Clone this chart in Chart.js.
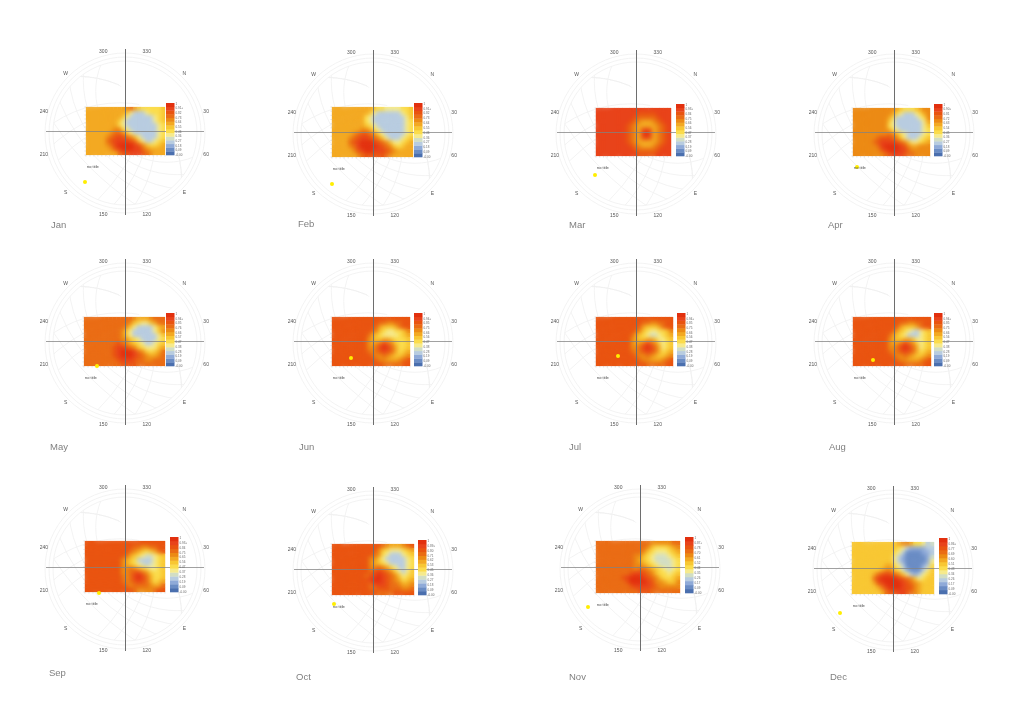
<!DOCTYPE html>
<html>
<head>
<meta charset="utf-8">
<style>
  html, body { margin: 0; background: #fff; }
  #page { position: relative; width: 1024px; height: 723px; overflow: hidden; }
  canvas { position: absolute; }
</style>
<script src="https://cdn.jsdelivr.net/npm/chart.js@4"></script>
</head>
<body>
<div id="page"></div>
<script>
// Each character is one heatmap cell, read as a colour-bar step (0 = lowest, d = highest)
const jan = ['88888888889a87666667','88888888887533356667','88888888875333333567','88888888753333333567','88888888653333333356','88888889965333333356','8888889aa97533333356','888889abcba975333356','88888abccccba7533567','888889acddddcb976678','8888889bcdddcca98888','88888888abbcccba9888'];
const feb = ['88888888887665555667','88888888875333333567','88888888653333333357','88888888653333333356','88888888765333333356','88888889986533333356','888889abba9753333356','88889abccba975333567','8888abcdddcba9755678','88889acddddcba976788','888889bcddcccba98888','8888889abbbbba988888'];
const mar = ['cccccccccccccccccccc','cccccccccccbbbbbcccc','ccccccccccbaaaaabccc','cccccccccba98889abcc','ccccccccba9888889abc','ccccccccba98bcb89abc','ccccccccba98cdc89abc','ccccccccba98bcb89abc','ccccccccba9888889abc','cccccccccba98889abcc','ccccccccccbaaaaabccc','cccccccccccbbbbbcccc'];
const apr = ['99999999999876667899','99999999998653335689','99999999986333333569','99999999975333333358','99999999965333333357','99999999986533333356','999999999a9865333356','999999abbba975333567','99999abccccba9755678','999999acddddcb988999','9999999bcdddcca99999','99999999abcccbaa9999'];
const may = ['aaaaaaaaaaaa98889aaa','aaaaaaaaaaa9765578aa','aaaaaaaaaa9753333578','aaaaaaaaa97533333579','aaaaaaaaa97533333357','aaaaaaaaa99765333356','aaaaaaaaba9876533567','aaaaaaabccba97655578','aaaaaaabcdddca97678a','aaaaaaabcdddcba9889a','aaaaaaaabcccbaa99aaa','aaaaaaaaabbbbaaaaaaa'];
const jun = ['bbbbbbbbbbbbbbbbbbbb','bbbbbbbbbbbbaa99aabb','bbbbbbbbbbba87778abb','bbbbbbbbbba976556679','bbbbbbbbba8765555678','bbbbbbbbb98778876667','bbbbbbbbb989aca97667','bbbbbbbbb99acdca8667','bbbbbbbbba9abcba8678','bbbbbbbbbba99a987789','bbbbbbbbbbba998889ab','bbbbbbbbbbbbbaaaaabb'];
const jul = ['bbbbbbbbbbbbbbbbbbbb','bbbbbbbbbbbbaa99aabb','bbbbbbbbbbba87778abb','bbbbbbbbbba976556679','bbbbbbbbba8765445678','bbbbbbbbb98778875567','bbbbbbbbb989aca97567','bbbbbbbbb99acdca8567','bbbbbbbbba9abcba8678','bbbbbbbbbba99a987789','bbbbbbbbbbba998889ab','bbbbbbbbbbbbbaaaaabb'];
const aug = ['bbbbbbbbbbbbbbbbbbbb','bbbbbbbbbbbbaa99aabb','bbbbbbbbbbba87778abb','bbbbbbbbbba876543567','bbbbbbbbba8765333567','bbbbbbbbb98778875567','bbbbbbbbb989aca97567','bbbbbbbbb99acdca8567','bbbbbbbbba9abcba8678','bbbbbbbbbba99a987789','bbbbbbbbbbba998889ab','bbbbbbbbbbbbbaaaaabb'];
const sep = ['bbbbbbbbbbbbbbbbbbbb','bbbbbbbbbbbbaa99aabb','bbbbbbbbbbba987678ab','bbbbbbbbbba876544567','bbbbbbbbb98763333567','bbbbbbbbb98765434567','bbbbbbbbb99a98765567','bbbbbbbbb99abca97667','bbbbbbbbba9acdca8667','bbbbbbbbba9abcba8678','bbbbbbbbbba9aaaa988a','bbbbbbbbbbbba9999abb'];
const oct = ['bbbbbbbbbbbba98889ab','bbbbbbbbbbb976555678','bbbbbbbbbba965333567','bbbbbbbbb99753333356','bbbbbbbbb98765333356','bbbbbbbbb99a98653356','bbbbbbbbbabcba975357','bbbbbbbbabcdcba97567','bbbbbbbbbcddcba98678','bbbbbbbbbacccbaa9889','bbbbbbbbbaabbbaaa99a','bbbbbbbbbbbaaaabbbbb'];
const nov = ['aaaaaaaaaaaaa99999aa','aaaaaaaaaaaa97666789','aaaaaaaaaaa976555678','aaaaaaaaa99765444567','aaaaaaaaa98765444456','aaaaaaaaa99876544456','aaaaaaaaa9aa98765456','aaaaaaaabccba9766567','aaaaaabcdddcba976678','aaaaaaabddddcb998779','aaaaaaaabccccba99999','aaaaaaaaaabbbaaaaaaa'];
const dec = ['77777777777899866534','77777777777653222233','77777777776531111223','77777777775321111124','77777777775321111125','77777777886531111236','77777778997642111357','777778abcba975323567','77777acddddcba975677','777778bcddddcba98777','7777778acdddcbb98777','77777778abbccba98777'];

const months = ['Jan', 'Feb', 'Mar', 'Apr', 'May', 'Jun', 'Jul', 'Aug', 'Sep', 'Oct', 'Nov', 'Dec'];
const heatData = [jan, feb, mar, apr, may, jun, jul, aug, sep, oct, nov, dec];

// Colour bar tick labels, top to bottom
const barTicks = [
    ['1', '0.91+', '0.82', '0.73', '0.64', '0.55', '0.46', '0.36', '0.27', '0.18', '0.09', '-0.00'],
    ['1', '0.91+', '0.82', '0.73', '0.64', '0.55', '0.46', '0.36', '0.27', '0.18', '0.09', '-0.00'],
    ['1', '0.93+', '0.84', '0.75', '0.66', '0.56', '0.47', '0.37', '0.28', '0.19', '0.09', '-0.00'],
    ['1', '0.90+', '0.81', '0.72', '0.63', '0.54', '0.45', '0.36', '0.27', '0.18', '0.09', '-0.00'],
    ['1', '0.94+', '0.85', '0.76', '0.66', '0.57', '0.47', '0.38', '0.28', '0.19', '0.09', '-0.00'],
    ['1', '0.94+', '0.85', '0.75', '0.66', '0.56', '0.47', '0.38', '0.28', '0.19', '0.09', '-0.00'],
    ['1', '0.94+', '0.85', '0.75', '0.66', '0.56', '0.47', '0.38', '0.28', '0.19', '0.09', '-0.00'],
    ['1', '0.94+', '0.85', '0.75', '0.66', '0.56', '0.47', '0.38', '0.28', '0.19', '0.09', '-0.00'],
    ['1', '0.93+', '0.84', '0.75', '0.65', '0.56', '0.47', '0.37', '0.28', '0.19', '0.09', '-0.00'],
    ['1', '0.89+', '0.80', '0.71', '0.62', '0.53', '0.45', '0.36', '0.27', '0.18', '0.09', '-0.00'],
    ['1', '0.87+', '0.78', '0.70', '0.61', '0.52', '0.44', '0.35', '0.26', '0.17', '0.09', '-0.00'],
    ['1', '0.86+', '0.77', '0.69', '0.60', '0.51', '0.43', '0.34', '0.26', '0.17', '0.09', '-0.00']
];

// Clockwise from the upper right, where north sits on these diagrams
const azimuthLabels = ['N', '30', '60', 'E', '120', '150', 'S', '210', '240', 'W', '300', '330'];

// Yellow marker in each month, page position
const markerX = [85, 332, 595, 857, 97, 351, 618, 873, 99, 334, 588, 840];
const markerY = [182, 184, 175, 167, 366, 358, 356, 360, 593, 604, 607, 613];

// Panel layout in page pixels
const centreX = [125, 373, 636, 894, 125, 373, 636, 894, 125, 373, 640, 893];
const centreY = [131, 132, 132, 132, 341, 341, 341, 341, 567, 569, 567, 568];
const heatLeft = [86, 332, 596, 853, 84, 332, 596, 853, 85, 332, 596, 852];
const heatRight = [165, 413, 671, 930, 165, 410, 673, 931, 165, 414, 680, 934];
const heatTop = [107, 107, 108, 108, 317, 317, 317, 317, 541, 544, 541, 542];
const heatBottom = [155, 157, 156, 156, 366, 366, 366, 366, 592, 595, 593, 594];
const barLeft = [166, 414, 676, 934, 166, 414, 677, 934, 170, 418, 685, 939];
const monthX = [51, 298, 569, 828, 50, 299, 569, 829, 49, 296, 569, 830];
const monthY = [225, 224, 225, 225, 447, 447, 447, 447, 673, 677, 677, 677];

const palette = ['#4a6fae', '#6a8cc4', '#8faad8', '#b8cce0', '#d2dec4', '#f6ea8c', '#fbdc4c', '#f8c733',
    '#f3a922', '#ec8a14', '#ea6c14', '#e95410', '#e8431a', '#e2300e'];

const RANGE = 120;
const RING_COLOR = '#f0f0f0';
const NE = Math.SQRT1_2;
const DOME_DY = -2;

// Sun path sky dome, in pixels from the centre: [distance towards north, radius]
const domeRings = [76, 72];
const dateArcs = [[59, 71], [74, 94], [95, 124], [135, 173], [242, 291]];
// Hour arcs: [offset across the north axis, radius]
const hourArcs = [[181, 209], [105, 148], [60, 120], [0, 104]];

function panelPlugin(i) {
    const cx = centreX[i], cy = centreY[i];

    function drawArc(chart, x, y, r) {
        const ctx = chart.ctx;
        const px = chart.scales.x.getPixelForValue(x);
        const py = chart.scales.y.getPixelForValue(y + DOME_DY);
        ctx.beginPath();
        ctx.arc(px, py, r, 0, Math.PI * 2);
        ctx.stroke();
    }

    return {
        id: 'sunPath' + i,
        beforeDatasetsDraw(chart) {
            const ctx = chart.ctx;
            const ox = chart.scales.x.getPixelForValue(0);
            const oy = chart.scales.y.getPixelForValue(DOME_DY);
            ctx.save();
            ctx.strokeStyle = RING_COLOR;
            ctx.lineWidth = 0.8;
            drawArc(chart, 0, 0, 80);
            domeRings.forEach(r => drawArc(chart, 0, 0, r));

            ctx.beginPath();
            ctx.arc(ox, oy, 72, 0, Math.PI * 2);
            ctx.clip();
            dateArcs.forEach(([d, r]) => drawArc(chart, d * NE, d * NE, r));

            // hour arcs stop at the pole, so cut off what lies beyond it
            ctx.beginPath();
            ctx.translate(ox, oy);
            ctx.rotate(Math.PI / 4);
            ctx.rect(-200, -30, 400, 300);
            ctx.rotate(-Math.PI / 4);
            ctx.translate(-ox, -oy);
            ctx.clip();
            hourArcs.forEach(([t, r]) => {
                const mx = -67 * NE, my = -67 * NE;
                drawArc(chart, mx + t * NE, my - t * NE, r);
                drawArc(chart, mx - t * NE, my + t * NE, r);
            });
            ctx.restore();
        },
        afterDatasetDraw(chart, args) {
            if (args.index !== 0) return;
            // soften the cells the way the original surface looks
            const ctx = chart.ctx;
            const x = chart.scales.x, y = chart.scales.y;
            const l = x.getPixelForValue(heatLeft[i] - cx), r = x.getPixelForValue(heatRight[i] - cx);
            const t = y.getPixelForValue(cy - heatTop[i]), b = y.getPixelForValue(cy - heatBottom[i]);
            ctx.save();
            ctx.beginPath();
            ctx.rect(l, t, r - l, b - t);
            ctx.clip();
            ctx.filter = 'blur(2.2px)';
            ctx.drawImage(chart.canvas, 0, 0);
            ctx.restore();

            // small axis ticks below and left of the surface
            ctx.save();
            ctx.strokeStyle = '#cfcfcf';
            ctx.lineWidth = 0.6;
            ctx.beginPath();
            for (let c = 0; c <= 20; c++) {
                const tx = l + (r - l) * c / 20;
                ctx.moveTo(tx, b);
                ctx.lineTo(tx, b + 1.5);
            }
            for (let c = 0; c <= 12; c++) {
                const ty = t + (b - t) * c / 12;
                ctx.moveTo(l, ty);
                ctx.lineTo(l - 1.5, ty);
            }
            ctx.stroke();
            ctx.restore();
        },
        afterDatasetsDraw(chart) {
            const ctx = chart.ctx;
            const x = chart.scales.x, y = chart.scales.y;
            ctx.save();
            ctx.textAlign = 'center';
            ctx.textBaseline = 'middle';

            // compass labels
            ctx.fillStyle = '#555';
            ctx.font = '5px "Liberation Sans", Arial, sans-serif';
            azimuthLabels.forEach((label, k) => {
                const a = (45 + k * 30) * Math.PI / 180;
                ctx.fillText(label, x.getPixelForValue(Math.sin(a) * 84), y.getPixelForValue(Math.cos(a) * 84 + DOME_DY));
            });

            // colour bar
            const bl = x.getPixelForValue(barLeft[i] - cx);
            const bt = y.getPixelForValue(cy - (heatTop[i] - 4));
            const bb = y.getPixelForValue(cy - heatBottom[i]);
            const step = (bb - bt) / palette.length;
            palette.forEach((c, k) => {
                ctx.fillStyle = c;
                ctx.fillRect(bl, bb - (k + 1) * step, 8.5, step + 0.3);
            });
            ctx.fillStyle = '#666';
            ctx.font = '3px "Liberation Sans", Arial, sans-serif';
            ctx.textAlign = 'left';
            barTicks[i].forEach((label, k) => {
                ctx.fillText(label, bl + 9.5, bt + 1 + (bb - bt - 1) * k / (barTicks[i].length - 1));
            });

            // title placeholder and month
            ctx.fillStyle = '#444';
            ctx.font = '4px "Liberation Sans", Arial, sans-serif';
            ctx.fillText('no title', x.getPixelForValue(heatLeft[i] - cx + 1), y.getPixelForValue(cy - heatBottom[i] - 12));
            ctx.fillStyle = '#808080';
            ctx.font = '9.5px "Liberation Sans", Arial, sans-serif';
            ctx.fillText(months[i], x.getPixelForValue(monthX[i] - cx), y.getPixelForValue(cy - monthY[i]));
            ctx.restore();
        }
    };
}

function heatPoints(i) {
    const rows = heatData[i];
    const w = (heatRight[i] - heatLeft[i]) / rows[0].length;
    const h = (heatBottom[i] - heatTop[i]) / rows.length;
    const points = [];
    rows.forEach((row, r) => {
        [...row].forEach((ch, c) => {
            points.push({
                x: heatLeft[i] + (c + 0.5) * w - centreX[i],
                y: centreY[i] - (heatTop[i] + (r + 0.5) * h),
                v: parseInt(ch, 16)
            });
        });
    });
    return { points, radius: Math.max(w, h) * Math.SQRT1_2 + 0.15 };
}

const page = document.getElementById('page');

months.forEach((month, i) => {
    const canvas = document.createElement('canvas');
    canvas.width = RANGE * 2;
    canvas.height = RANGE * 2;
    canvas.style.left = (centreX[i] - RANGE) + 'px';
    canvas.style.top = (centreY[i] - RANGE) + 'px';
    page.appendChild(canvas);

    const heat = heatPoints(i);

    new Chart(canvas, {
        type: 'scatter',
        data: {
            datasets: [
                {
                    label: month + ' surface',
                    data: heat.points,
                    order: 3,
                    pointStyle: 'rect',
                    pointRadius: heat.radius,
                    pointBorderWidth: 0,
                    pointBackgroundColor: ctx => palette[ctx.raw.v]
                },
                {
                    label: 'east-west',
                    data: [{ x: -79, y: -0.5 }, { x: 79, y: -0.5 }],
                    order: 2,
                    showLine: true,
                    pointRadius: 0,
                    borderColor: 'rgba(130,130,130,0.75)',
                    borderWidth: 1
                },
                {
                    label: 'north-south',
                    data: [{ x: 0.5, y: 82 }, { x: 0.5, y: -84 }],
                    order: 2,
                    showLine: true,
                    pointRadius: 0,
                    borderColor: 'rgba(110,110,110,0.85)',
                    borderWidth: 1
                },
                {
                    label: 'marker',
                    data: [{ x: markerX[i] - centreX[i], y: centreY[i] - markerY[i] }],
                    order: 1,
                    pointRadius: 2,
                    pointBorderWidth: 0,
                    pointBackgroundColor: '#ffee00'
                }
            ]
        },
        options: {
            responsive: false,
            animation: false,
            layout: { padding: 0, autoPadding: false },
            plugins: { legend: { display: false }, tooltip: { enabled: false }, title: { display: false } },
            scales: {
                x: { type: 'linear', display: false, min: -RANGE, max: RANGE },
                y: { type: 'linear', display: false, min: -RANGE, max: RANGE }
            }
        },
        plugins: [panelPlugin(i)]
    });
});
</script>
</body>
</html>
